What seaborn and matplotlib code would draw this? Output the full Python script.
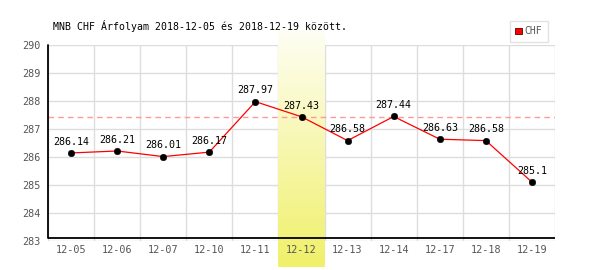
import numpy as np
import pandas as pd
import matplotlib
matplotlib.use("Agg")
import matplotlib.pyplot as plt
from matplotlib.colors import LinearSegmentedColormap
from matplotlib.patches import Patch
import seaborn as sns

dates = ["12-05", "12-06", "12-07", "12-10", "12-11", "12-12",
         "12-13", "12-14", "12-17", "12-18", "12-19"]
values = [286.14, 286.21, 286.01, 286.17, 287.97, 287.43,
          286.58, 287.44, 286.63, 286.58, 285.1]
labels = ["286.14", "286.21", "286.01", "286.17", "287.97", "287.43",
          "286.58", "287.44", "286.63", "286.58", "285.1"]
highlight = "12-12"
ref_level = 287.43
title = "MNB CHF Árfolyam 2018-12-05 és 2018-12-19 között."

sns.set_theme(style="white")
plt.rcParams['font.family'] = ['DejaVu Sans Mono', 'DejaVu Sans']

df = pd.DataFrame({"date": dates, "value": values, "idx": range(len(dates))})

fig = plt.figure(figsize=(6, 2.7), dpi=100)
ax = fig.add_axes([0.08, 0.1074, 0.845, 0.727])
ax.set_xlim(-0.5, len(dates) - 0.5)
ax.set_ylim(283, 290)

# grid
for y in range(283, 291):
    ax.axhline(y, color="#dddddd", lw=1, zorder=0)
for k in range(len(dates) + 1):
    ax.axvline(-0.5 + k, color="#dddddd", lw=1, zorder=0)

# highlight band (gradient)
hi = dates.index(highlight)
cmap = LinearSegmentedColormap.from_list("yl", ["#fefef4", "#f0f06a"])
grad = np.linspace(0, 1, 256).reshape(-1, 1)
ax.imshow(grad, cmap=cmap, aspect="auto", origin="upper",
          extent=(hi - 0.5, hi + 0.5, 282.07, 290.5), clip_on=False, zorder=0.5)
ax.set_xlim(-0.5, len(dates) - 0.5)
ax.set_ylim(283, 290)

# black axis lines (x axis sits slightly above the 283 gridline)
x_axis_y = 283.11
ax.axhline(x_axis_y, color="black", lw=1.3, zorder=1.5)
ax.plot([-0.5, -0.5], [x_axis_y, 290], color="black", lw=1.3, zorder=1.5,
        clip_on=False)

ax.axhline(ref_level, color="#ff9999", lw=1, ls=(0, (4, 3)), zorder=1)

sns.lineplot(data=df, x="idx", y="value", color="red", lw=0.9, ax=ax, zorder=2)
sns.scatterplot(data=df, x="idx", y="value", color="black", s=22,
                edgecolor="black", ax=ax, zorder=3)
for i, (v, t) in enumerate(zip(values, labels)):
    ax.annotate(t, (i, v), xytext=(0, 4.5), textcoords="offset points",
                ha="center", va="bottom", fontsize=7.2, color="black", zorder=4)

ax.set_xticks(range(len(dates)))
ax.set_xticklabels(dates)
ax.set_yticks(range(283, 291))
ax.tick_params(axis="x", length=0, labelsize=7.3, colors="#555555", pad=3)
ax.tick_params(axis="y", length=0, labelsize=7.3, colors="#555555", pad=5)
ax.set_xlabel("")
ax.set_ylabel("")
for s in ["top", "right", "left", "bottom"]:
    ax.spines[s].set_visible(False)

fig.text(0.088, 0.905, title, fontsize=7.1, color="black", ha="left", va="center")

ax.legend(handles=[Patch(facecolor="red", edgecolor="#550000", linewidth=0.6,
                         label="CHF")],
          loc="lower right", bbox_to_anchor=(0.995, 0.99), fontsize=7,
          handlelength=0.7, handleheight=0.7, handletextpad=0.3,
          frameon=True, fancybox=False, edgecolor="#dddddd", borderpad=0.55,
          labelcolor="#555555")

fig.savefig("out.png", dpi=100)
